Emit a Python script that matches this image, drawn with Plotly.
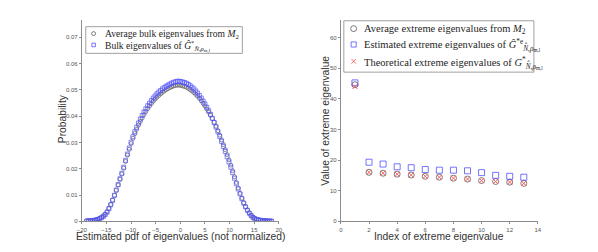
import plotly.graph_objects as go

# ---------- left panel data ----------
bulk_x = [-19.0, -18.625, -18.25, -17.875, -17.5, -17.125, -16.75, -16.375, -16.0, -15.625,
          -15.25, -14.875, -14.5, -14.125, -13.75, -13.375, -13.0, -12.625, -12.25, -11.875,
          -11.5, -11.125, -10.75, -10.375, -10.0, -9.625, -9.25, -8.875, -8.5, -8.125,
          -7.75, -7.375, -7.0, -6.625, -6.25, -5.875, -5.5, -5.125, -4.75, -4.375,
          -4.0, -3.625, -3.25, -2.875, -2.5, -2.125, -1.75, -1.375, -1.0, -0.625,
          -0.25, 0.125, 0.5, 0.875, 1.25, 1.625, 2.0, 2.375, 2.75, 3.125,
          3.5, 3.875, 4.25, 4.625, 5.0, 5.375, 5.75, 6.125, 6.5, 6.875,
          7.25, 7.625, 8.0, 8.375, 8.75, 9.125, 9.5, 9.875, 10.25, 10.625,
          11.0, 11.375, 11.75, 12.125, 12.5, 12.875, 13.25, 13.625, 14.0, 14.375,
          14.75, 15.125, 15.5, 15.875, 16.25, 16.625, 17.0, 17.375, 17.75, 18.125, 18.5]

avg_bulk_M2 = [0.0002, 0.0002, 0.0003, 0.0003, 0.0004, 0.0006, 0.0008, 0.0011, 0.0015, 0.0020,
               0.0027, 0.0036, 0.0050, 0.0064, 0.0081, 0.0099, 0.0118, 0.0138, 0.0160, 0.0180,
               0.0202, 0.0228, 0.0252, 0.0274, 0.0296, 0.0316, 0.0334, 0.0350, 0.0366, 0.0380,
               0.0393, 0.0406, 0.0418, 0.0429, 0.0439, 0.0448, 0.0457, 0.0465, 0.0472, 0.0479,
               0.0485, 0.0491, 0.0496, 0.0501, 0.0505, 0.0509, 0.0512, 0.0515, 0.0517, 0.0518,
               0.0518, 0.0517, 0.0515, 0.0513, 0.0510, 0.0506, 0.0501, 0.0496, 0.0490, 0.0483,
               0.0476, 0.0468, 0.0459, 0.0449, 0.0439, 0.0427, 0.0416, 0.0404, 0.0391, 0.0377,
               0.0362, 0.0345, 0.0328, 0.0310, 0.0292, 0.0273, 0.0254, 0.0234, 0.0214, 0.0192,
               0.0170, 0.0148, 0.0127, 0.0107, 0.0088, 0.0071, 0.0056, 0.0043, 0.0032, 0.0023,
               0.0016, 0.0011, 0.0008, 0.0006, 0.0004, 0.0003, 0.0003, 0.0002, 0.0002, 0.0001, 0.0001]

bulk_G = [0.0001, 0.0002, 0.0002, 0.0003, 0.0004, 0.0005, 0.0007, 0.0010, 0.0014, 0.0019,
          0.0026, 0.0035, 0.0048, 0.0063, 0.0080, 0.0099, 0.0119, 0.0140, 0.0162, 0.0183,
          0.0206, 0.0232, 0.0256, 0.0279, 0.0301, 0.0322, 0.0341, 0.0358, 0.0374, 0.0389,
          0.0403, 0.0416, 0.0428, 0.0440, 0.0450, 0.0460, 0.0469, 0.0477, 0.0485, 0.0492,
          0.0498, 0.0504, 0.0509, 0.0514, 0.0518, 0.0522, 0.0526, 0.0529, 0.0531, 0.0533,
          0.0533, 0.0532, 0.0530, 0.0528, 0.0525, 0.0521, 0.0516, 0.0510, 0.0504, 0.0496,
          0.0488, 0.0479, 0.0469, 0.0458, 0.0447, 0.0434, 0.0421, 0.0407, 0.0392, 0.0376,
          0.0359, 0.0341, 0.0323, 0.0304, 0.0285, 0.0266, 0.0246, 0.0226, 0.0206, 0.0185,
          0.0164, 0.0143, 0.0123, 0.0104, 0.0086, 0.0069, 0.0055, 0.0042, 0.0031, 0.0022,
          0.0015, 0.0010, 0.0007, 0.0005, 0.0004, 0.0003, 0.0002, 0.0002, 0.0001, 0.0001, 0.0001]

# ---------- right panel data ----------
ext_index = [1, 2, 3, 4, 5, 6, 7, 8, 9, 10, 11, 12, 13]
avg_extreme_M2 = [44.6, 16.0, 15.7, 15.4, 15.1, 14.7, 14.4, 14.1, 13.8, 13.3, 13.0, 12.8, 12.4]
est_extreme_G = [45.2, 19.3, 18.7, 17.8, 17.5, 16.9, 16.7, 16.7, 16.5, 15.9, 15.0, 14.7, 14.4]
theo_extreme_G = [44.0, 16.0, 15.7, 15.4, 15.1, 14.7, 14.4, 14.1, 13.8, 13.3, 13.0, 12.8, 12.4]

left_xticks = [-20, -15, -10, -5, 0, 5, 10, 15, 20]
left_yticks = [0, 0.01, 0.02, 0.03, 0.04, 0.05, 0.06, 0.07]
left_ytick_text = ["0", "0.01", "0.02", "0.03", "0.04", "0.05", "0.06", "0.07"]
right_xticks = [0, 2, 4, 6, 8, 10, 12, 14]
right_yticks = [0, 10, 20, 30, 40, 50, 60]

sub_N = "<sub><i>N̂</i>,<i>ρ</i><sub>m,l</sub></sub>"
left_names = ["Average bulk eigenvalues from <i>M</i><sub>2</sub>",
              "Bulk eigenvalues of <i>Ĝ</i><sup>*</sup>" + sub_N]
right_names = ["Average extreme eigenvalues from <i>M</i><sub>2</sub>",
               "Estimated extreme eigenvalues of <i>Ĝ</i><sup>*e</sup>" + sub_N,
               "Theoretical extreme eigenvalues of <i>G</i><sup>*</sup>" + sub_N]

W, H = 598, 252
GRAY = "#8c8c8c"
BLACK_M = "#5a5a5a"
BLUE_M = "#5050ff"
RED_M = "#ff5a5a"
SERIF = "Liberation Serif"
SANS = "Liberation Sans"


def px(x):
    return x / W


def py(y):
    return 1 - y / H


fig = go.Figure()
fig.add_trace(go.Scatter(
    x=bulk_x, y=avg_bulk_M2, mode="markers", xaxis="x", yaxis="y", name=left_names[0], showlegend=False,
    marker=dict(symbol="circle-open", size=4, color=BLACK_M, line=dict(width=0.7, color=BLACK_M))))
fig.add_trace(go.Scatter(
    x=bulk_x, y=bulk_G, mode="markers", xaxis="x", yaxis="y", name=left_names[1], showlegend=False,
    marker=dict(symbol="square-open", size=4, color=BLUE_M, line=dict(width=0.7, color=BLUE_M))))
fig.add_trace(go.Scatter(
    x=ext_index, y=avg_extreme_M2, mode="markers", xaxis="x2", yaxis="y2", name=right_names[0], showlegend=False,
    marker=dict(symbol="circle-open", size=6, color=BLACK_M, line=dict(width=0.8, color=BLACK_M))))
fig.add_trace(go.Scatter(
    x=ext_index, y=est_extreme_G, mode="markers", xaxis="x2", yaxis="y2", name=right_names[1], showlegend=False,
    marker=dict(symbol="square-open", size=6, color=BLUE_M, line=dict(width=0.8, color=BLUE_M))))
fig.add_trace(go.Scatter(
    x=ext_index, y=theo_extreme_G, mode="markers", xaxis="x2", yaxis="y2", name=right_names[2], showlegend=False,
    marker=dict(symbol="x-thin", size=5, color=RED_M, line=dict(width=1, color=RED_M))))

ydom = [py(224), py(20)]
axis_common = dict(showgrid=False, zeroline=False, showline=True, linecolor=GRAY, linewidth=1,
                   ticks="outside", ticklen=2, tickcolor=GRAY, tickwidth=1,
                   tickfont=dict(family=SANS, size=6, color="#555555"))

shapes = []
annotations = []


def legend_box(x0, y0, x1, y1):
    shapes.append(dict(type="rect", xref="paper", yref="paper", x0=px(x0), x1=px(x1), y0=py(y1), y1=py(y0),
                       line=dict(color="#a0a0a0", width=1), fillcolor="white", layer="above"))


def sym_circle(cx, cy, r, color):
    shapes.append(dict(type="circle", xref="paper", yref="paper", x0=px(cx - r), x1=px(cx + r),
                       y0=py(cy + r), y1=py(cy - r), line=dict(color=color, width=0.8), layer="above"))


def sym_square(cx, cy, r, color):
    shapes.append(dict(type="rect", xref="paper", yref="paper", x0=px(cx - r), x1=px(cx + r),
                       y0=py(cy + r), y1=py(cy - r), line=dict(color=color, width=0.8), layer="above"))


def sym_x(cx, cy, r, color):
    for s in (1, -1):
        shapes.append(dict(type="line", xref="paper", yref="paper", x0=px(cx - r), x1=px(cx + r),
                           y0=py(cy + s * r), y1=py(cy - s * r), line=dict(color=color, width=0.9), layer="above"))


def legend_text(text, x, y, size):
    annotations.append(dict(text=text, xref="paper", yref="paper", x=px(x), y=py(y), xanchor="left",
                            yanchor="middle", showarrow=False, font=dict(family=SERIF, size=size, color="#1e1e1e")))


legend_box(82, 27, 241, 54)
sym_circle(90, 34, 2, BLACK_M)
sym_square(90, 45.5, 1.8, BLUE_M)
legend_text(left_names[0], 99, 34.5, 9.6)
legend_text(left_names[1], 99, 47.5, 9.6)

legend_box(344, 21, 537, 73)
sym_circle(354, 29, 3, BLACK_M)
sym_square(354, 45, 2.6, BLUE_M)
sym_x(354, 62, 2.3, RED_M)
legend_text(right_names[0], 362, 29.5, 10.5)
legend_text(right_names[1], 362, 46, 10.5)
legend_text(right_names[2], 362, 64, 10.5)

TITLE_FONT = dict(family=SANS, size=10.3, color="#333333")
annotations += [
    dict(text="Probability", xref="paper", yref="paper", x=px(58.5), y=py(120), textangle=-90,
         xanchor="center", yanchor="middle", showarrow=False, font=TITLE_FONT),
    dict(text="Estimated pdf of eigenvalues (not normalized)", xref="paper", yref="paper",
         x=px(178), y=py(239), xanchor="center", yanchor="middle", showarrow=False, font=TITLE_FONT),
    dict(text="Value of extreme eigenvalue", xref="paper", yref="paper", x=px(325), y=py(122),
         textangle=-90, xanchor="center", yanchor="middle", showarrow=False, font=TITLE_FONT),
    dict(text="Index of extreme eigenvalue", xref="paper", yref="paper", x=px(441), y=py(239),
         xanchor="center", yanchor="middle", showarrow=False, font=TITLE_FONT),
]

fig.update_layout(
    width=W, height=H, margin=dict(l=0, r=0, t=0, b=0),
    paper_bgcolor="white", plot_bgcolor="white", showlegend=False,
    xaxis=dict(domain=[px(78), px(278)], range=[-20, 20], tickvals=left_xticks, anchor="y", **axis_common),
    yaxis=dict(domain=ydom, range=[0, 0.0767], tickvals=left_yticks, ticktext=left_ytick_text, anchor="x", **axis_common),
    xaxis2=dict(domain=[px(341), px(541)], range=[0, 14], tickvals=right_xticks, anchor="y2", **axis_common),
    yaxis2=dict(domain=ydom, range=[0, 65.8], tickvals=right_yticks, anchor="x2", **axis_common),
    shapes=shapes,
    annotations=annotations,
)

fig.write_html("out.html", config={"displayModeBar": False},
               post_script="document.body.style.margin='0';document.body.style.padding='0';")
